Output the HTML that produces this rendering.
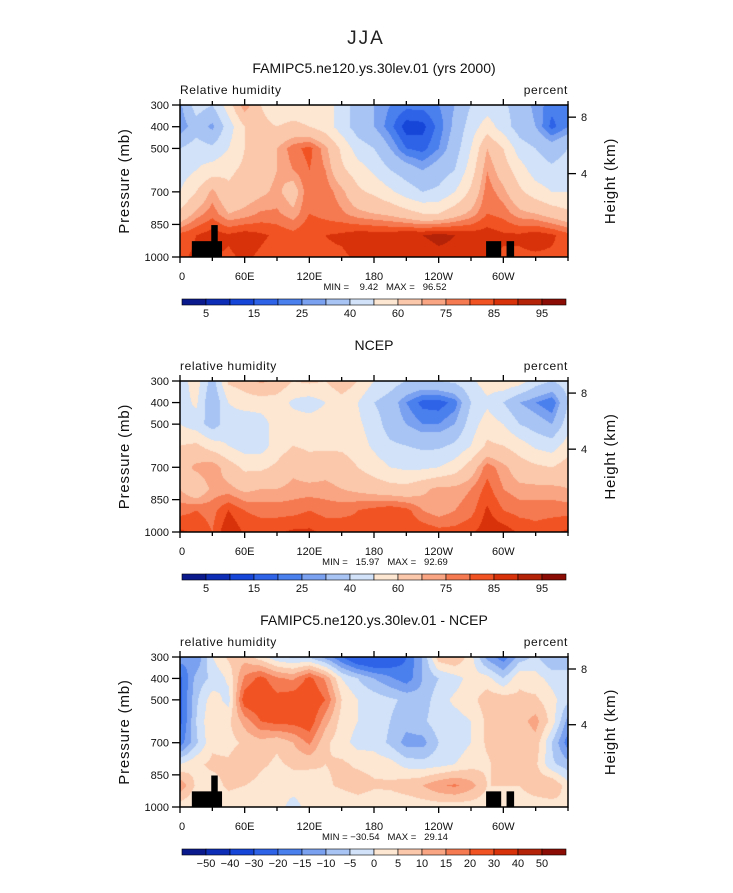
<!DOCTYPE html>
<html><head><meta charset="utf-8"><style>
body{margin:0;background:#fff;width:733px;height:888px;overflow:hidden;position:relative;font-family:"Liberation Sans",sans-serif}
svg text{font-family:"Liberation Sans",sans-serif}
.pre{white-space:pre}
</style></head><body>
<svg id="fig" width="733" height="888" xmlns="http://www.w3.org/2000/svg">
<text x="366" y="44" font-size="19" text-anchor="middle" fill="#222" letter-spacing="2">JJA</text>
</svg>
<script>
const lons=[0,15,30,45,60,75,90,105,120,135,150,165,180,195,210,225,240,255,270,285,300,315,330,345,360];
const pressures=[300,400,500,600,700,800,900,1000];
const rhLevels=[5,10,15,20,25,30,40,50,60,70,75,80,85,90,95];
const rhTickLabels=["5","15","25","40","60","75","85","95"];
const diffLevels=[-50,-40,-30,-20,-15,-10,-5,0,5,10,15,20,30,40,50];
const diffTickLabels=["-50","-40","-30","-20","-15","-10","-5","0","5","10","15","20","30","40","50"];
const xTickLabels=["0","60E","120E","180","120W","60W"];
const yTickValues=[300,400,500,700,850,1000];
const heightTicks=[{h:8,p:356},{h:4,p:616}];
const modelRH=[
[28,45,40,55,75,60,55,55,55,55,45,35,30,25,22,22,25,30,40,45,42,35,28,22,25],
[25,35,28,45,60,62,60,62,60,55,45,35,30,22,12,13,22,32,45,55,45,35,30,18,25],
[40,45,42,50,60,65,70,78,82,72,58,45,40,30,20,18,25,35,50,70,60,45,40,35,40],
[45,50,55,58,62,65,70,75,80,75,62,55,48,40,35,30,35,40,55,75,65,55,45,42,45],
[50,60,72,62,65,68,72,65,80,78,72,62,58,52,45,40,42,50,62,78,72,62,55,50,50],
[62,72,78,70,72,76,76,72,80,78,76,72,70,68,64,60,60,66,72,80,78,72,70,66,62],
[82,85,88,86,88,86,84,82,85,85,86,88,88,88,90,90,92,90,88,88,86,86,88,86,82],
[84,86,85,84,86,84,82,84,85,84,84,86,85,86,86,86,88,88,86,85,84,84,84,84,84]];
const ncepRH=[
[45,55,35,62,65,72,68,60,62,60,68,60,50,45,40,38,40,42,48,55,58,55,45,40,45],
[45,52,30,50,55,55,55,48,45,50,55,50,40,35,25,18,17,22,40,48,40,30,25,20,40],
[50,45,35,45,42,45,55,55,55,55,55,52,45,35,30,25,25,30,45,55,50,40,35,30,45],
[60,62,55,50,45,45,55,60,58,58,58,55,48,42,40,38,38,42,50,62,60,55,48,45,55],
[65,72,75,65,58,58,62,68,65,67,65,60,55,50,48,48,50,55,65,78,72,65,62,60,65],
[70,62,72,72,68,70,70,72,72,72,70,68,66,64,63,68,72,72,75,82,75,72,72,72,70],
[78,80,78,85,80,78,78,78,80,78,78,80,82,84,82,75,72,75,78,86,80,78,78,78,78],
[86,84,80,90,84,84,84,86,86,84,84,82,84,85,85,84,82,82,84,88,88,84,82,84,86]];
const diffRH=[
[-12,-15,0,6,8,2,-4,-6,-6,-12,-20,-28,-30,-26,-20,-10,8,10,2,-12,-18,-8,-4,-10,-5],
[-22,-8,-4,1,16,22,16,14,22,14,0,-5,-10,-14,-18,-10,-5,-2,2,2,-5,4,2,-2,-5],
[-22,-6,3,-2,24,26,22,24,26,20,5,0,-2,-4,-6,-8,-2,1,3,8,8,6,6,2,-4],
[-22,-5,5,4,12,20,22,22,24,12,3,0,-2,-5,-8,-6,-2,-2,0,6,5,8,12,3,-12],
[-18,-6,4,3,6,8,6,10,16,6,2,-2,-2,-6,-12,-12,-5,-3,0,6,8,6,8,-5,-18],
[0,4,6,6,10,6,4,6,6,5,6,4,3,2,-2,-3,-2,0,3,4,8,8,6,-4,-8],
[14,4,3,6,5,3,2,2,2,4,6,8,6,6,8,10,14,16,12,5,5,5,8,10,2],
[2,0,-2,2,1,2,2,-2,2,0,0,1,0,1,1,2,2,2,2,2,2,2,2,2,5]];
const topoBoxes=[{l0:11,l1:39,p:927},{l0:29,l1:35,p:853},{l0:284,l1:298,p:927},{l0:303,l1:310,p:927}];
const colors=["#0a1a8c","#0d2db6","#1646d8","#2e63e8","#4a7fee","#7aa0f0","#a8c4f4","#d2e2f8","#fde6d2","#fbc8ac","#f9a583","#f57a52","#f25322","#d8320a","#b42308","#8a0c04"];
const NS="http://www.w3.org/2000/svg";
const svg=document.getElementById('fig');
function mk(tag,attrs,parent){const e=document.createElementNS(NS,tag);for(const k in attrs)e.setAttribute(k,attrs[k]);(parent||svg).appendChild(e);return e;}
function hex(c){return [parseInt(c.slice(1,3),16),parseInt(c.slice(3,5),16),parseInt(c.slice(5,7),16)];}
const rgb=colors.map(hex);
const X0=180,X1=568;
function xOf(lon){return X0+(lon/360)*(X1-X0);}
function panel(o){
  const yTop=o.y0,yBot=o.y1;
  const yOf=p=>yTop+(p-300)/700*(yBot-yTop);
  const g=mk('g',{});
  
  
  const t=mk('text',{x:374,y:o.titleY,'font-size':14,'text-anchor':'middle',fill:'#111'},g);t.textContent=o.title;
  
  const ls=mk('text',{x:180,y:yTop-11,'font-size':12,fill:'#111','letter-spacing':'0.6'},g);ls.textContent=o.left;
  
  const rs=mk('text',{x:568,y:yTop-11,'font-size':12,fill:'#111','text-anchor':'end','letter-spacing':'0.6'},g);rs.textContent='percent';
  
  const W=X1-X0,H=yBot-yTop;
  const cv=document.createElement('canvas');cv.width=W;cv.height=H;
  const ctx=cv.getContext('2d');const img=ctx.createImageData(W,H);
  const d=o.data,lv=o.levels;
  for(let j=0;j<H;j++){
    const p=300+(j+0.5)/H*700;
    let r=0;while(r<pressures.length-2&&pressures[r+1]<p)r++;
    const fy=(p-pressures[r])/(pressures[r+1]-pressures[r]);
    for(let i=0;i<W;i++){
      const lon=(i+0.5)/W*360;
      let c=0;while(c<lons.length-2&&lons[c+1]<lon)c++;
      const fx=(lon-lons[c])/(lons[c+1]-lons[c]);
      const v=(d[r][c]*(1-fx)+d[r][c+1]*fx)*(1-fy)+(d[r+1][c]*(1-fx)+d[r+1][c+1]*fx)*fy;
      let k=0;while(k<lv.length&&v>=lv[k])k++;
      const q=(j*W+i)*4;img.data[q]=rgb[k][0];img.data[q+1]=rgb[k][1];img.data[q+2]=rgb[k][2];img.data[q+3]=255;
    }
  }
  ctx.putImageData(img,0,0);
  const im=mk('image',{x:X0,y:yTop,width:W,height:H,href:cv.toDataURL()},g);
  
  if(o.topo){topoBoxes.forEach(b=>{const r=mk('rect',{x:xOf(b.l0),y:yOf(b.p),width:xOf(b.l1)-xOf(b.l0),height:yBot-yOf(b.p),fill:'#000'},g);
    });}
  const fr=mk('rect',{x:X0,y:yTop,width:W,height:H,fill:'none',stroke:'#000','stroke-width':1.5},g);
  
  for(let lon=0;lon<=360;lon+=30){const x=xOf(lon);const maj=lon%60==0&&lon<360;
    mk('line',{x1:x,y1:yBot,x2:x,y2:yBot+(maj?6:4),stroke:'#000','stroke-width':1.3},g);
    mk('line',{x1:x,y1:yTop,x2:x,y2:yTop-(maj?6:4),stroke:'#000','stroke-width':1.3},g);}
  xTickLabels.forEach((s,i)=>{const tx=mk('text',{x:xOf(i*60)+(i==0?-1:0),y:yBot+23,'font-size':11,'text-anchor':i==0?'start':'middle',fill:'#111'},g);tx.textContent=s;
    });
  yTickValues.forEach(p=>{const y=yOf(p);mk('line',{x1:X0-8,y1:y,x2:X0,y2:y,stroke:'#000','stroke-width':1.3},g);
    const tx=mk('text',{x:X0-11,y:y+4,'font-size':11,'text-anchor':'end',fill:'#111'},g);tx.textContent=p;
    });
  heightTicks.forEach(h=>{const y=yOf(h.p);mk('line',{x1:X1,y1:y,x2:X1+8,y2:y,stroke:'#000','stroke-width':1.3},g);
    const tx=mk('text',{x:X1+13,y:y+4,'font-size':11,fill:'#111'},g);tx.textContent=h.h;
    });
  const cy=(yTop+yBot)/2;
  const ya=mk('text',{x:129,y:cy,'font-size':15,'text-anchor':'middle',fill:'#111',transform:`rotate(-90 129 ${cy})`,'letter-spacing':'0.8'},g);ya.textContent='Pressure (mb)';
  
  const ha=mk('text',{x:615,y:cy,'font-size':15,'text-anchor':'middle',fill:'#111',transform:`rotate(-90 615 ${cy})`,'letter-spacing':'0.8'},g);ha.textContent='Height (km)';
  
  const mm=mk('text',{x:385,y:yBot+33,'font-size':9.5,'text-anchor':'middle',fill:'#111','class':'pre'},g);mm.textContent=o.minmax;
  
  const cb0=182,cb1=566,cw=(cb1-cb0)/16,cby=o.cbY;
  colors.forEach((c,i)=>{const r=mk('rect',{x:cb0+i*cw,y:cby,width:cw,height:6,fill:c,stroke:'#000','stroke-width':0.6},g);
    });
  o.tickLabels.forEach((s,i)=>{const idx=o.every==2?2*i+1:i+1;
    const tx=mk('text',{x:cb0+idx*cw,y:cby+18,'font-size':11,'text-anchor':'middle',fill:'#111'},g);tx.textContent=s.replace('-','\u2212');
    });
}
panel({name:'model-panel',y0:105,y1:257,titleY:73,title:'FAMIPC5.ne120.ys.30lev.01 (yrs 2000)',left:'Relative humidity',data:modelRH,levels:rhLevels,topo:true,minmax:'MIN =    9.42   MAX =   96.52',cbY:299,tickLabels:rhTickLabels,every:2});
panel({name:'ncep-panel',y0:381,y1:532,titleY:350,title:'NCEP',left:'relative humidity',data:ncepRH,levels:rhLevels,topo:false,minmax:'MIN =   15.97   MAX =   92.69',cbY:574,tickLabels:rhTickLabels,every:2});
panel({name:'difference-panel',y0:657,y1:807,titleY:625,title:'FAMIPC5.ne120.ys.30lev.01 - NCEP',left:'relative humidity',data:diffRH,levels:diffLevels,topo:true,minmax:'MIN = \u221230.54   MAX =   29.14',cbY:849,tickLabels:diffTickLabels,every:1});
</script>
</body></html>
